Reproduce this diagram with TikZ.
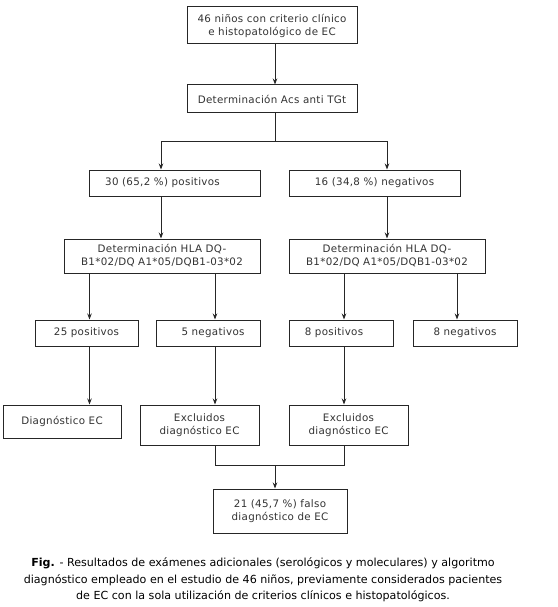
\documentclass[tikz,border=0pt]{standalone}
\usepackage{fontspec}
\setmainfont{DejaVu Sans}
\newfontfamily\boxfont[LetterSpace=3]{DejaVu Sans}
\usetikzlibrary{arrows.meta,calc}
\begin{document}
\begin{tikzpicture}[x=1pt,y=-1pt,
  box/.style={draw=black!85,line width=1pt,rectangle,inner sep=0pt,
    font=\boxfont\fontsize{10.3}{13}\selectfont,text=black!80,align=center},
  conn/.style={draw=black!85,line width=0.9pt},
  arr/.style={conn,-{Stealth[length=6pt,width=4.5pt]}}]
\useasboundingbox (0,0) rectangle (557,607);
\fill[white] (0,0) rectangle (557,607);
% columns
\coordinate (c0) at (275,0);
\coordinate (cL) at (161,0);
\coordinate (cR) at (387,0);
\coordinate (cA) at (89.5,0);
\coordinate (cB) at (215,0);
\coordinate (cC) at (344,0);
\coordinate (cD) at (457,0);
% nodes
\node[box,minimum width=170,minimum height=37] (n1) at (272,25.5) {46 niños con criterio clínico\\e histopatológico de EC};
\node[box,minimum width=170,minimum height=28] (n2) at (272,99) {Determinación Acs anti TGt};
\node[box,minimum width=171,minimum height=26] (n3) at (174.5,183) {\hspace*{-24pt}30 (65,2 \%) positivos};
\node[box,minimum width=171,minimum height=26] (n4) at (374.5,183) {16 (34,8 \%) negativos};
\node[box,minimum width=196,minimum height=34] (n5) at (162,256) {Determinación HLA DQ-\\B1*02/DQ A1*05/DQB1-03*02};
\node[box,minimum width=196,minimum height=34] (n6) at (387,256) {Determinación HLA DQ-\\B1*02/DQ A1*05/DQB1-03*02};
\node[box,minimum width=103,minimum height=26] (n7) at (86.5,333) {25 positivos};
\node[box,minimum width=104,minimum height=26] (n8) at (208,333) {\hspace*{10pt}5 negativos};
\node[box,minimum width=104,minimum height=26] (n9) at (341,333) {\hspace*{-14pt}8 positivos};
\node[box,minimum width=104,minimum height=26] (n10) at (465,333) {8 negativos};
\node[box,minimum width=118,minimum height=33] (n11) at (62,421.5) {Diagnóstico EC};
\node[box,minimum width=119,minimum height=40] (n12) at (199.5,425) {Excluidos\\diagnóstico EC};
\node[box,minimum width=119,minimum height=40] (n13) at (348.5,425) {Excluidos\\diagnóstico EC};
\node[box,minimum width=134,minimum height=44] (n14) at (280,511) {21 (45,7 \%) falso\\diagnóstico de EC};
% connectors
\draw[arr] (n1.south -| c0) -- (n2.north -| c0);
\coordinate (j1) at ($(n2.south -| c0)+(0,28)$);
\draw[conn] (n2.south -| c0) -- (j1);
\draw[arr] (j1) -| (n3.north -| cL);
\draw[arr] (j1) -| (n4.north -| cR);
\draw[arr] (n3.south -| cL) -- (n5.north -| cL);
\draw[arr] (n4.south -| cR) -- (n6.north -| cR);
\draw[arr] (n5.south -| cA) -- (n7.north -| cA);
\draw[arr] (n5.south -| cB) -- (n8.north -| cB);
\draw[arr] (n6.south -| cC) -- (n9.north -| cC);
\draw[arr] (n6.south -| cD) -- (n10.north -| cD);
\draw[arr] (n7.south -| cA) -- (n11.north -| cA);
\draw[arr] (n8.south -| cB) -- (n12.north -| cB);
\draw[arr] (n9.south -| cC) -- (n13.north -| cC);
\coordinate (j2) at ($(n12.south -| c0)+(0,20)$);
\draw[conn] (n12.south -| cB) |- (j2) -| (n13.south -| cC);
\draw[arr] (j2) -- (n14.north -| c0);
% caption
\node[align=center,font=\fontsize{11.1}{16.5}\selectfont,inner sep=0pt] (cap) at (263,580)
  {\textbf{Fig.} - Resultados de exámenes adicionales (serológicos y moleculares) y algoritmo\\
   diagnóstico empleado en el estudio de 46 niños, previamente considerados pacientes\\
   de EC con la sola utilización de criterios clínicos e histopatológicos.};
\end{tikzpicture}
\end{document}
